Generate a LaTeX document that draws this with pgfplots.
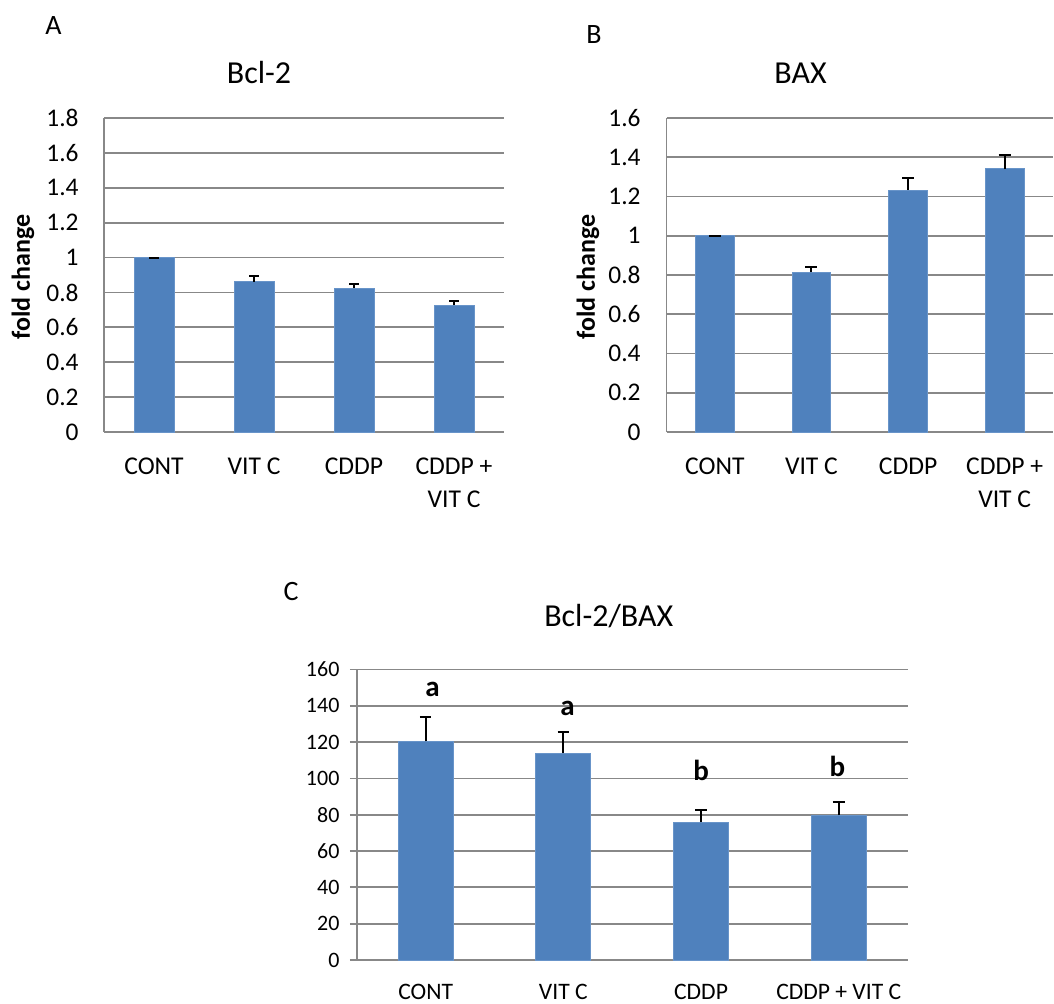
\documentclass[border=0pt]{standalone}
\usepackage{fontspec}
\setmainfont{Carlito}
\usepackage{pgfplots}
\pgfplotsset{compat=1.18}
\definecolor{barblue}{RGB}{79,129,189}
\definecolor{baredge}{RGB}{104,148,201}
\definecolor{gridgray}{RGB}{136,136,136}

\pgfplotsset{
  excelbar/.style={
    scale only axis, enlargelimits=false,
    axis x line*=bottom, axis y line*=left,
    axis line style={-, draw=gridgray, line width=0.9pt},
    ymajorgrids, grid style={draw=gridgray, line width=0.9pt},
    xmin=-0.5, xmax=3.5, ymin=0,
    xtick={0,1,2,3},
    major tick length=0pt,
    /pgf/number format/assume math mode=true,
  },
}

\begin{document}
\begin{tikzpicture}
\path[use as bounding box] (0,0) rectangle (527pt,-501.5pt);

% Panel A
\begin{axis}[excelbar,
  at={(52pt,-216pt)}, anchor=south west,
  width=200pt, height=157pt,
  ymax=1.8, ytick={0,0.2,0.4,0.6,0.8,1,1.2,1.4,1.6,1.8},
  xticklabels={CONT, VIT C, CDDP, {CDDP +\\VIT C}},
  yticklabel style={font=\fontsize{12.7}{15}\selectfont, anchor=east, inner sep=0pt, xshift=-12.5pt},
  xticklabel style={font=\fontsize{12.8}{16.5}\selectfont, anchor=north, inner sep=0pt, yshift=-12.5pt, align=center},
]
\addplot[ybar, bar width=20pt, fill=barblue, draw=baredge, line width=0.4pt,
  error bars/.cd, y dir=plus, y explicit,
  error bar style={black, line width=1pt},
  error mark options={rotate=90, mark size=2.3pt, black, line width=1pt}]
  coordinates {(0,1.0) +- (0,0) (1,0.862) +- (0,0.032) (2,0.824) +- (0,0.023) (3,0.726) +- (0,0.025)};
\end{axis}

% Panel B
\begin{axis}[excelbar,
  at={(333.25pt,-216pt)}, anchor=south west,
  width=193.25pt, height=157pt,
  ymax=1.6, ytick={0,0.2,0.4,0.6,0.8,1,1.2,1.4,1.6},
  xticklabels={CONT, VIT C, CDDP, {CDDP +\\VIT C}},
  yticklabel style={font=\fontsize{12.7}{15}\selectfont, anchor=east, inner sep=0pt, xshift=-12.75pt},
  xticklabel style={font=\fontsize{12.8}{16.5}\selectfont, anchor=north, inner sep=0pt, yshift=-12.5pt, align=center},
]
\addplot[ybar, bar width=19.25pt, fill=barblue, draw=baredge, line width=0.4pt,
  error bars/.cd, y dir=plus, y explicit,
  error bar style={black, line width=1pt},
  error mark options={rotate=90, mark size=3pt, black, line width=1pt}]
  coordinates {(0,1.0) +- (0,0) (1,0.814) +- (0,0.027) (2,1.233) +- (0,0.06) (3,1.342) +- (0,0.068)};
\end{axis}

% Panel C
\begin{axis}[excelbar,
  at={(178.4pt,-480pt)}, anchor=south west,
  width=275.4pt, height=145.25pt,
  ymax=160, ytick={0,20,40,60,80,100,120,140,160},
  ytick style={draw=gridgray, line width=0.9pt},
  ymajorticks=true, major tick length=3.5pt, tick align=outside,
  xtick style={draw=none},
  xticklabels={CONT, VIT C, CDDP, CDDP + VIT C},
  yticklabel style={font=\fontsize{11}{13}\selectfont, anchor=east, inner sep=0pt, xshift=-5pt},
  xticklabel style={font=\fontsize{11.8}{14}\selectfont, anchor=north, inner sep=0pt, yshift=-8.5pt},
]
\addplot[ybar, bar width=27.5pt, fill=barblue, draw=baredge, line width=0.4pt,
  error bars/.cd, y dir=plus, y explicit,
  error bar style={black, line width=1pt},
  error mark options={rotate=90, mark size=2.9pt, black, line width=1pt}]
  coordinates {(0,120.4) +- (0,13.6) (1,113.8) +- (0,11.6) (2,75.8) +- (0,6.8) (3,79.8) +- (0,7.3)};
\node[anchor=base, font=\fontsize{14.5}{16}\selectfont\bfseries] at (axis cs:0.05,145.4) {a};
\node[anchor=base, font=\fontsize{14.5}{16}\selectfont\bfseries] at (axis cs:1.03,134.9) {a};
\node[anchor=base, font=\fontsize{14.5}{16}\selectfont\bfseries] at (axis cs:2.0,99.1) {b};
\node[anchor=base, font=\fontsize{14.5}{16}\selectfont\bfseries] at (axis cs:2.99,101.0) {b};
\end{axis}

% Titles and panel letters
\node[anchor=base, font=\fontsize{16}{18}\selectfont] at (129.5pt,-41.5pt) {Bcl-2};
\node[anchor=base, font=\fontsize{16}{18}\selectfont] at (400.25pt,-41.5pt) {BAX};
\node[anchor=base, font=\fontsize{16}{18}\selectfont] at (304.35pt,-313.35pt) {Bcl-2/BAX};
\node[anchor=base, font=\fontsize{14}{16}\selectfont] at (26.75pt,-17pt) {A};
\node[anchor=base, font=\fontsize{14}{16}\selectfont] at (297pt,-21.5pt) {B};
\node[anchor=base, font=\fontsize{14}{16}\selectfont] at (145.5pt,-300pt) {C};
\node[rotate=90, font=\fontsize{13}{15}\selectfont\bfseries] at (11.5pt,-138.5pt) {fold change};
\node[rotate=90, font=\fontsize{13}{15}\selectfont\bfseries] at (294pt,-138.5pt) {fold change};
\end{tikzpicture}
\end{document}
